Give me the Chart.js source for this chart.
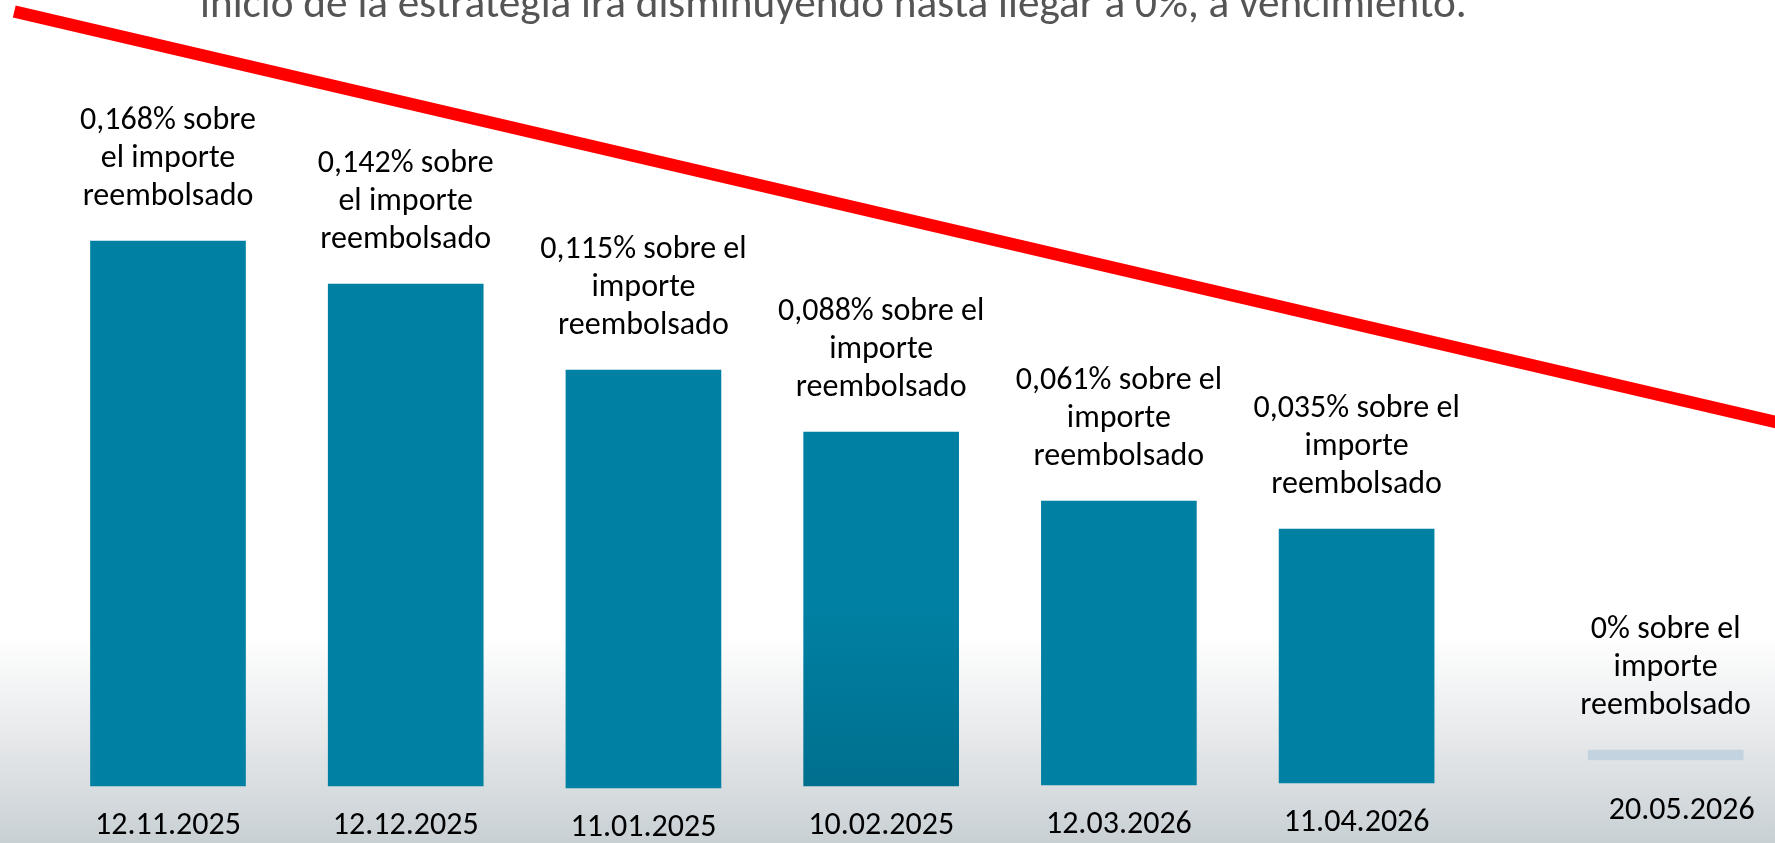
<!DOCTYPE html>
<html>
<head>
<meta charset="utf-8">
<script src="https://cdn.jsdelivr.net/npm/chart.js@4"></script>
<style>
  html, body { margin: 0; padding: 0; background: #ffffff; overflow: hidden; }
  #wrap { position: relative; width: 1775px; height: 843px; }
</style>
</head>
<body>
<div id="wrap"><canvas id="c"></canvas></div>
<script>
// ---- data ----
const dateLabels = ['12.11.2025', '12.12.2025', '11.01.2025', '10.02.2025', '12.03.2026', '11.04.2026', '20.05.2026'];
const dayOffsets = [0, 30, 60, 90, 120, 150, 189];           // days since 12.11.2025
const feeValues  = [0.168, 0.142, 0.115, 0.088, 0.061, 0.035, 0]; // % over reimbursed amount
const barBottoms = [0, 0, -2, 0, 1, 3, 26];                   // drawn bar base (picture units)
const barTops    = [545, 502, 416, 354, 285, 257, 36];        // drawn bar top (picture units)
const labelLines = [
  ['0,168% sobre', 'el importe', 'reembolsado'],
  ['0,142% sobre', 'el importe', 'reembolsado'],
  ['0,115% sobre el', 'importe', 'reembolsado'],
  ['0,088% sobre el', 'importe', 'reembolsado'],
  ['0,061% sobre el', 'importe', 'reembolsado'],
  ['0,035% sobre el', 'importe', 'reembolsado'],
  ['0% sobre el', 'importe', 'reembolsado']
];
const trendX = [-19.4, 205];
const trendY = [774.5, 360];
const titleText = 'inicio de la estrategia irá disminuyendo hasta llegar a 0%, a vencimiento.';

// ---- styling ----
const FONT = '"Carlito", "Liberation Sans Narrow", "Liberation Sans", sans-serif';
const barColor = '#0081a4';
const zeroBarColor = '#c3d3df';

const barData = dayOffsets.map((d, i) => ({ x: d, y: [barBottoms[i], barTops[i]] }));
const trendData = trendX.map((x, i) => ({ x: x, y: trendY[i] }));

const backgroundPlugin = {
  id: 'bg',
  beforeDraw(chart) {
    const { ctx, width, height } = chart;
    ctx.save();
    const g = ctx.createLinearGradient(0, 0, 0, height);
    g.addColorStop(0, '#ffffff');
    g.addColorStop(635 / height, '#ffffff');
    g.addColorStop(740 / height, '#e6e8ea');
    g.addColorStop(1, '#c8d0d4');
    ctx.fillStyle = g;
    ctx.fillRect(0, 0, width, height);
    // clipped title line at the top
    ctx.font = '300 36px ' + FONT;
    const w = ctx.measureText(titleText).width;
    const size = 36 * 1267 / w;
    ctx.font = '300 ' + size.toFixed(2) + 'px ' + FONT;
    ctx.fillStyle = '#555555';
    ctx.textAlign = 'left';
    ctx.textBaseline = 'alphabetic';
    ctx.fillText(titleText, 200, 17);
    ctx.restore();
  }
};

const labelPlugin = {
  id: 'labels',
  afterDatasetsDraw(chart) {
    const { ctx } = chart;
    const meta = chart.getDatasetMeta(0);
    const last = meta.data.length - 1;
    ctx.save();
    ctx.fillStyle = '#000000';
    ctx.textAlign = 'center';
    ctx.textBaseline = 'middle';
    ctx.font = '32px ' + FONT;
    meta.data.forEach((el, i) => {
      const lines = labelLines[i];
      const lastY = el.y - 44;
      lines.forEach((t, k) => {
        ctx.fillText(t, el.x, lastY - (lines.length - 1 - k) * 38);
      });
      ctx.fillText(dateLabels[i], el.x + (i === last ? 16 : 0), el.base + (i === last ? 51 : 40));
    });
    ctx.restore();
  }
};

new Chart(document.getElementById('c'), {
  data: {
    datasets: [
      {
        type: 'bar',
        data: barData,
        backgroundColor: (c) => {
          const i = c.dataIndex;
          if (i === feeValues.length - 1) return zeroBarColor;
          if (i === 3 && c.chart.chartArea) {
            const g = c.chart.ctx.createLinearGradient(0, 600, 0, 786);
            g.addColorStop(0, barColor);
            g.addColorStop(1, '#006f8e');
            return g;
          }
          return barColor;
        },
        borderWidth: 0,
        barThickness: 155,
        order: 2
      },
      {
        type: 'line',
        data: trendData,
        borderColor: '#ff0000',
        borderWidth: 12.5,
        borderCapStyle: 'butt',
        pointRadius: 0,
        fill: false,
        tension: 0,
        order: 1
      }
    ]
  },
  options: {
    responsive: true,
    maintainAspectRatio: false,
    animation: false,
    layout: { padding: 0 },
    plugins: { legend: { display: false }, tooltip: { enabled: false }, title: { display: false } },
    scales: {
      x: { type: 'linear', min: -21.2, max: 202.8, offset: false, display: false },
      y: { type: 'linear', min: -57, max: 786, display: false }
    }
  },
  plugins: [backgroundPlugin, labelPlugin]
});
</script>
</body>
</html>
